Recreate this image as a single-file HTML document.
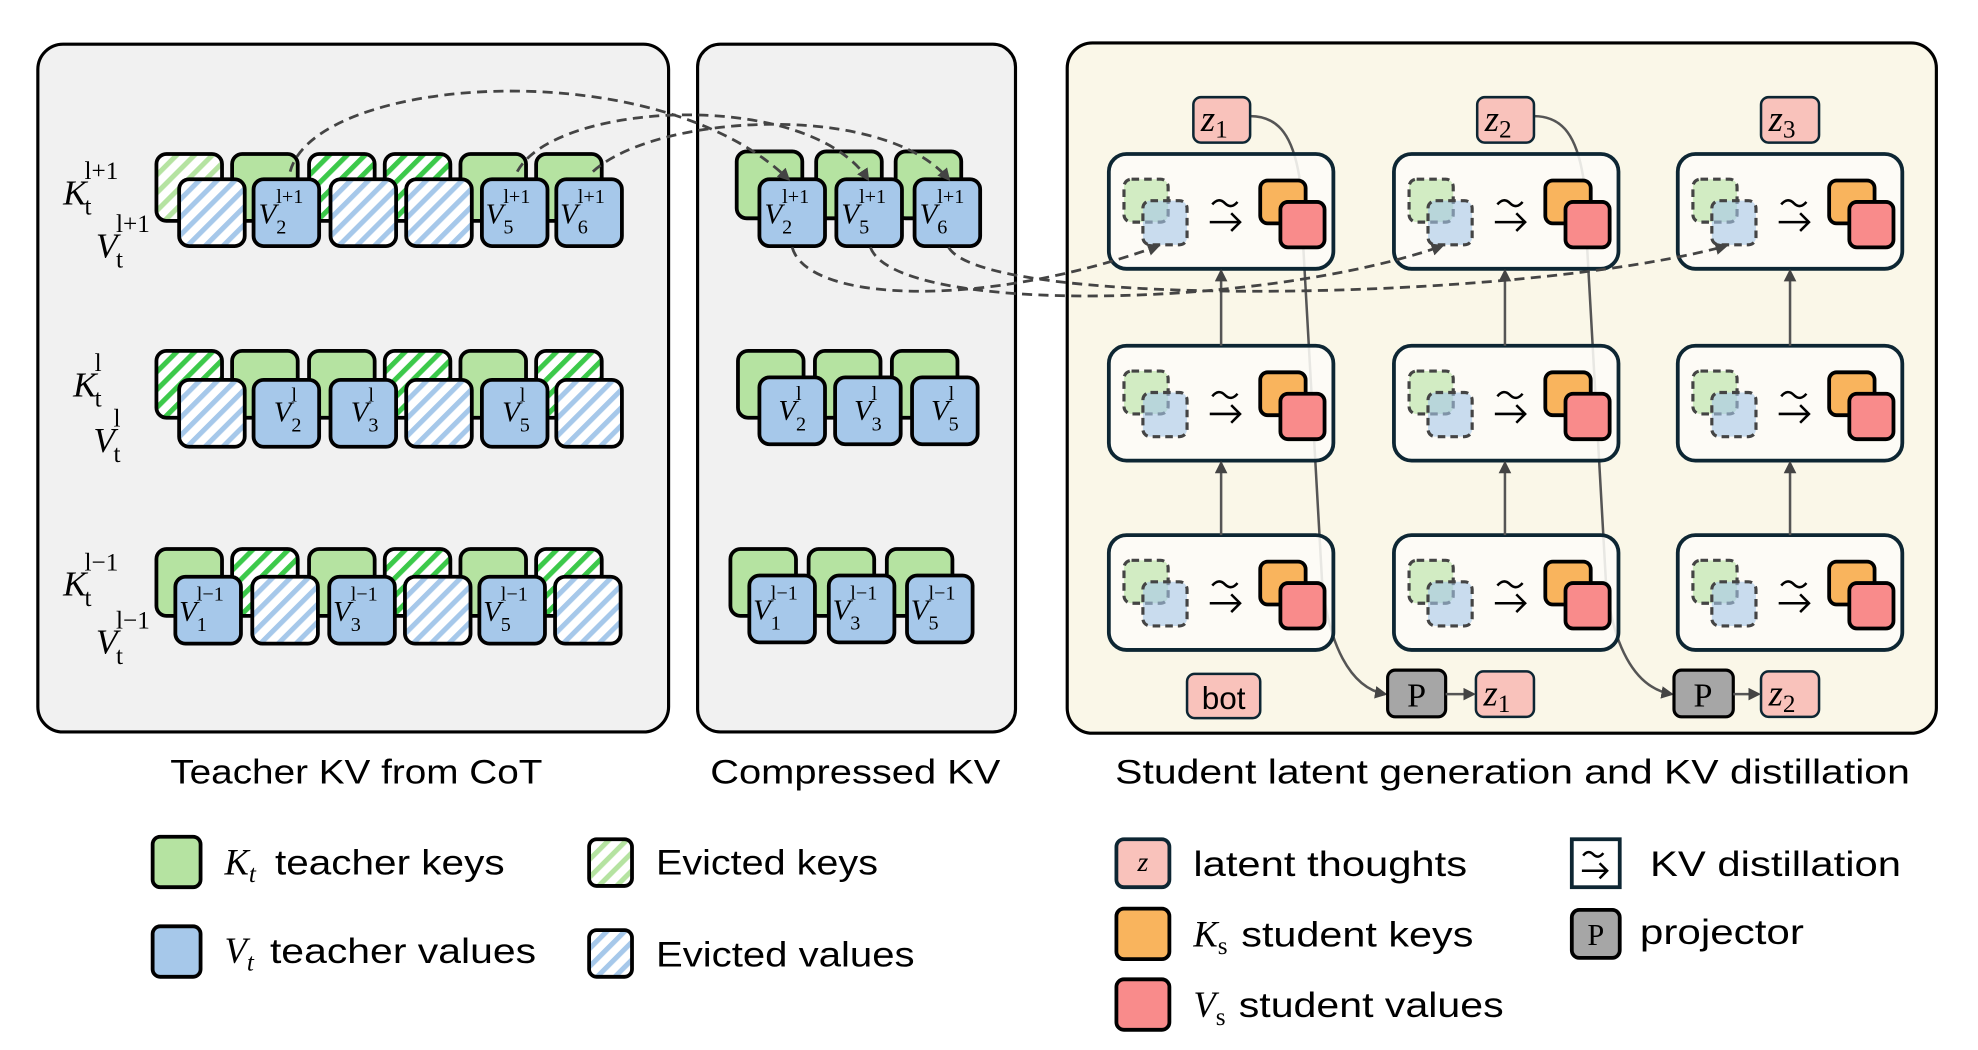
<!DOCTYPE html>
<html><head><meta charset="utf-8"><style>
html,body{margin:0;padding:0;background:#fff;}
svg{display:block;}
.t{font-family:"Liberation Sans",sans-serif;fill:#000;}
.s{font-family:"Liberation Serif",serif;fill:#000;}
</style></head><body>
<svg width="1978" height="1050" viewBox="0 0 1568 832" preserveAspectRatio="none" xmlns="http://www.w3.org/2000/svg">
<defs>
<pattern id="hg" patternUnits="userSpaceOnUse" width="10" height="10" patternTransform="rotate(45)">
<rect width="10" height="10" fill="#fff"/><rect width="4" height="10" fill="#3cc94a"/></pattern>
<pattern id="hgl" patternUnits="userSpaceOnUse" width="10" height="10" patternTransform="rotate(45)">
<rect width="10" height="10" fill="#fff"/><rect width="4" height="10" fill="#b5e3a1"/></pattern>
<pattern id="hb" patternUnits="userSpaceOnUse" width="10" height="10" patternTransform="rotate(45)">
<rect width="10" height="10" fill="#fff"/><rect width="4" height="10" fill="#a6c8ea"/></pattern>
<marker id="ah" markerWidth="10" markerHeight="10" refX="8" refY="5" orient="auto" markerUnits="userSpaceOnUse"><path d="M0,0 L10,5 L0,10 z" fill="#444"/></marker>
<g id="kS"><rect width="52" height="53" rx="8" fill="#b5e3a1" stroke="#000" stroke-width="3"/></g>
<g id="kH"><rect width="52" height="53" rx="8" fill="url(#hg)" stroke="#000" stroke-width="3"/></g>
<g id="kL"><rect width="52" height="53" rx="8" fill="url(#hgl)" stroke="#000" stroke-width="3"/></g>
<g id="vS"><rect width="52" height="53" rx="8" fill="#a6c8ea" stroke="#000" stroke-width="3"/></g>
<g id="vH"><rect width="52" height="53" rx="8" fill="url(#hb)" stroke="#000" stroke-width="3"/></g>
<g id="blk">
<rect width="178" height="91" rx="14" fill="#fdfcf7" fill-opacity="0.88" stroke="#0d2633" stroke-width="3"/>
<rect x="12" y="20" width="35" height="34" rx="6" fill="#b5e3a1" fill-opacity="0.6" stroke="#444" stroke-width="2.5" stroke-dasharray="6,4"/>
<rect x="27" y="37" width="35" height="35" rx="6" fill="#a6c8ea" fill-opacity="0.6" stroke="#444" stroke-width="2.5" stroke-dasharray="6,4"/>
<path d="M82,40 q5,-6 10,-1 t10,-1" fill="none" stroke="#000" stroke-width="2"/>
<path d="M80,54 h24 M97,47 l7,7 l-7,7" fill="none" stroke="#000" stroke-width="2"/>
<rect x="120" y="21" width="36" height="34" rx="6" fill="#f9b45d" stroke="#000" stroke-width="3"/>
<rect x="136" y="38" width="35" height="36" rx="6" fill="#f98b8b" stroke="#000" stroke-width="3"/>
</g>
</defs>

<rect x="30" y="35" width="500" height="545" rx="20" fill="#f1f1f1" stroke="#000" stroke-width="2.5"/>
<rect x="553" y="35" width="252" height="545" rx="18" fill="#f1f1f1" stroke="#000" stroke-width="2.5"/>
<rect x="846" y="34" width="689" height="547" rx="20" fill="#faf7e8" stroke="#000" stroke-width="2.5"/>

<text class="t" x="135" y="621" font-size="27" textLength="295" lengthAdjust="spacingAndGlyphs">Teacher KV from CoT</text>
<text class="t" x="563" y="621" font-size="27" textLength="230" lengthAdjust="spacingAndGlyphs">Compressed KV</text>
<text class="t" x="884" y="621" font-size="27" textLength="630" lengthAdjust="spacingAndGlyphs">Student latent generation and KV distillation</text>

<g class="s" font-size="28">
<text x="50" y="162"><tspan font-style="italic">K</tspan><tspan x="67" dy="8" font-size="20">t</tspan><tspan x="67" dy="-28" font-size="20">l+1</tspan></text>
<text x="76" y="204"><tspan font-style="italic">V</tspan><tspan x="92" dy="8" font-size="20">t</tspan><tspan x="92" dy="-28" font-size="20">l+1</tspan></text>
<text x="58" y="314"><tspan font-style="italic">K</tspan><tspan x="75" dy="8" font-size="20">t</tspan><tspan x="75" dy="-28" font-size="20">l</tspan></text>
<text x="74" y="358"><tspan font-style="italic">V</tspan><tspan x="90" dy="8" font-size="20">t</tspan><tspan x="90" dy="-28" font-size="20">l</tspan></text>
<text x="50" y="472"><tspan font-style="italic">K</tspan><tspan x="67" dy="8" font-size="20">t</tspan><tspan x="67" dy="-28" font-size="20">l−1</tspan></text>
<text x="76" y="518"><tspan font-style="italic">V</tspan><tspan x="92" dy="8" font-size="20">t</tspan><tspan x="92" dy="-28" font-size="20">l−1</tspan></text>
</g>

<use href="#kL" x="124" y="122"/><use href="#kS" x="184" y="122"/><use href="#kH" x="245" y="122"/><use href="#kH" x="305" y="122"/><use href="#kS" x="365" y="122"/><use href="#kS" x="425" y="122"/>
<use href="#vH" x="142" y="142"/><use href="#vS" x="201" y="142"/><use href="#vH" x="262" y="142"/><use href="#vH" x="322" y="142"/><use href="#vS" x="382" y="142"/><use href="#vS" x="441" y="142"/>
<use href="#kH" x="124" y="278"/><use href="#kS" x="184" y="278"/><use href="#kS" x="245" y="278"/><use href="#kH" x="305" y="278"/><use href="#kS" x="365" y="278"/><use href="#kH" x="425" y="278"/>
<use href="#vH" x="142" y="301"/><use href="#vS" x="201" y="301"/><use href="#vS" x="262" y="301"/><use href="#vH" x="322" y="301"/><use href="#vS" x="382" y="301"/><use href="#vH" x="441" y="301"/>
<use href="#kS" x="124" y="435"/><use href="#kH" x="184" y="435"/><use href="#kS" x="245" y="435"/><use href="#kH" x="305" y="435"/><use href="#kS" x="365" y="435"/><use href="#kH" x="425" y="435"/>
<use href="#vS" x="139" y="457"/><use href="#vH" x="200" y="457"/><use href="#vS" x="261" y="457"/><use href="#vH" x="321" y="457"/><use href="#vS" x="380" y="457"/><use href="#vH" x="440" y="457"/>

<use href="#kS" x="584" y="120"/><use href="#kS" x="647" y="120"/><use href="#kS" x="710" y="120"/>
<use href="#vS" x="602" y="142"/><use href="#vS" x="663" y="142"/><use href="#vS" x="725" y="142"/>
<use href="#kS" x="585" y="278"/><use href="#kS" x="646" y="278"/><use href="#kS" x="707" y="278"/>
<use href="#vS" x="602" y="299"/><use href="#vS" x="662" y="299"/><use href="#vS" x="723" y="299"/>
<use href="#kS" x="579" y="435"/><use href="#kS" x="641" y="435"/><use href="#kS" x="703" y="435"/>
<use href="#vS" x="594" y="456"/><use href="#vS" x="657" y="456"/><use href="#vS" x="719" y="456"/>

<g class="s" font-size="23">
<text x="205" y="177"><tspan font-style="italic">V</tspan><tspan x="219" dy="8" font-size="16">2</tspan><tspan x="219" dy="-24" font-size="16">l+1</tspan></text>
<text x="385" y="177"><tspan font-style="italic">V</tspan><tspan x="399" dy="8" font-size="16">5</tspan><tspan x="399" dy="-24" font-size="16">l+1</tspan></text>
<text x="444" y="177"><tspan font-style="italic">V</tspan><tspan x="458" dy="8" font-size="16">6</tspan><tspan x="458" dy="-24" font-size="16">l+1</tspan></text>
<text x="217" y="334"><tspan font-style="italic">V</tspan><tspan x="231" dy="8" font-size="16">2</tspan><tspan x="231" dy="-24" font-size="16">l</tspan></text>
<text x="278" y="334"><tspan font-style="italic">V</tspan><tspan x="292" dy="8" font-size="16">3</tspan><tspan x="292" dy="-24" font-size="16">l</tspan></text>
<text x="398" y="334"><tspan font-style="italic">V</tspan><tspan x="412" dy="8" font-size="16">5</tspan><tspan x="412" dy="-24" font-size="16">l</tspan></text>
<text x="142" y="492"><tspan font-style="italic">V</tspan><tspan x="156" dy="8" font-size="16">1</tspan><tspan x="156" dy="-24" font-size="16">l−1</tspan></text>
<text x="264" y="492"><tspan font-style="italic">V</tspan><tspan x="278" dy="8" font-size="16">3</tspan><tspan x="278" dy="-24" font-size="16">l−1</tspan></text>
<text x="383" y="492"><tspan font-style="italic">V</tspan><tspan x="397" dy="8" font-size="16">5</tspan><tspan x="397" dy="-24" font-size="16">l−1</tspan></text>
<text x="606" y="177"><tspan font-style="italic">V</tspan><tspan x="620" dy="8" font-size="16">2</tspan><tspan x="620" dy="-24" font-size="16">l+1</tspan></text>
<text x="667" y="177"><tspan font-style="italic">V</tspan><tspan x="681" dy="8" font-size="16">5</tspan><tspan x="681" dy="-24" font-size="16">l+1</tspan></text>
<text x="729" y="177"><tspan font-style="italic">V</tspan><tspan x="743" dy="8" font-size="16">6</tspan><tspan x="743" dy="-24" font-size="16">l+1</tspan></text>
<text x="617" y="333"><tspan font-style="italic">V</tspan><tspan x="631" dy="8" font-size="16">2</tspan><tspan x="631" dy="-24" font-size="16">l</tspan></text>
<text x="677" y="333"><tspan font-style="italic">V</tspan><tspan x="691" dy="8" font-size="16">3</tspan><tspan x="691" dy="-24" font-size="16">l</tspan></text>
<text x="738" y="333"><tspan font-style="italic">V</tspan><tspan x="752" dy="8" font-size="16">5</tspan><tspan x="752" dy="-24" font-size="16">l</tspan></text>
<text x="597" y="491"><tspan font-style="italic">V</tspan><tspan x="611" dy="8" font-size="16">1</tspan><tspan x="611" dy="-24" font-size="16">l−1</tspan></text>
<text x="660" y="491"><tspan font-style="italic">V</tspan><tspan x="674" dy="8" font-size="16">3</tspan><tspan x="674" dy="-24" font-size="16">l−1</tspan></text>
<text x="722" y="491"><tspan font-style="italic">V</tspan><tspan x="736" dy="8" font-size="16">5</tspan><tspan x="736" dy="-24" font-size="16">l−1</tspan></text>
</g>

<path d="M991,92 C1015,92 1025,110 1030,140 L1048,460 C1053,510 1070,545 1098,550" fill="none" stroke="#555" stroke-width="2" marker-end="url(#ah)"/>
<path d="M1216,92 C1240,92 1250,110 1255,140 L1273,460 C1278,510 1295,545 1325,550" fill="none" stroke="#555" stroke-width="2" marker-end="url(#ah)"/>

<use href="#blk" x="879" y="122"/><use href="#blk" x="1105" y="122"/><use href="#blk" x="1330" y="122"/>
<use href="#blk" x="879" y="274"/><use href="#blk" x="1105" y="274"/><use href="#blk" x="1330" y="274"/>
<use href="#blk" x="879" y="424"/><use href="#blk" x="1105" y="424"/><use href="#blk" x="1330" y="424"/>

<g stroke="#555" stroke-width="2" marker-end="url(#ah)">
<line x1="968" y1="274" x2="968" y2="215"/><line x1="1193" y1="274" x2="1193" y2="215"/><line x1="1419" y1="274" x2="1419" y2="215"/>
<line x1="968" y1="424" x2="968" y2="367"/><line x1="1193" y1="424" x2="1193" y2="367"/><line x1="1419" y1="424" x2="1419" y2="367"/>
</g>

<g stroke="#0d2633" stroke-width="2">
<rect x="946" y="77" width="45" height="36" rx="6" fill="#f9c2bb"/>
<rect x="1171" y="77" width="45" height="36" rx="6" fill="#f9c2bb"/>
<rect x="1396" y="77" width="46" height="36" rx="6" fill="#f9c2bb"/>
<rect x="941" y="534" width="58" height="35" rx="6" fill="#f9c2bb"/>
<rect x="1170" y="532" width="46" height="36" rx="6" fill="#f9c2bb"/>
<rect x="1396" y="532" width="46" height="36" rx="6" fill="#f9c2bb"/>
</g>
<g stroke="#000" stroke-width="2.5" fill="#a6a6a6">
<rect x="1100" y="531" width="46" height="37" rx="6"/>
<rect x="1327" y="531" width="47" height="37" rx="6"/>
</g>
<g stroke="#555" stroke-width="2" marker-end="url(#ah)">
<line x1="1146" y1="550" x2="1168" y2="550"/><line x1="1374" y1="550" x2="1394" y2="550"/>
</g>
<g class="s" font-size="29">
<text x="952" y="104"><tspan font-style="italic">z</tspan><tspan font-size="20" dy="5">1</tspan></text>
<text x="1177" y="104"><tspan font-style="italic">z</tspan><tspan font-size="20" dy="5">2</tspan></text>
<text x="1402" y="104"><tspan font-style="italic">z</tspan><tspan font-size="20" dy="5">3</tspan></text>
<text x="1176" y="559"><tspan font-style="italic">z</tspan><tspan font-size="20" dy="5">1</tspan></text>
<text x="1402" y="559"><tspan font-style="italic">z</tspan><tspan font-size="20" dy="5">2</tspan></text>
<text x="1123" y="560" text-anchor="middle" font-size="27">P</text>
<text x="1350" y="560" text-anchor="middle" font-size="27">P</text>
</g>
<text class="t" x="970" y="562" font-size="25" text-anchor="middle">bot</text>

<g fill="none" stroke="#444" stroke-width="2.2" stroke-dasharray="8,5" marker-end="url(#ah)">
<path d="M230,136 C250,60 520,40 625,142"/>
<path d="M410,136 C440,80 640,70 688,142"/>
<path d="M470,136 C520,90 700,80 752,142"/>
<path d="M628,196 C640,240 780,245 918,195"/>
<path d="M690,196 C710,250 1000,245 1143,195"/>
<path d="M752,196 C780,245 1200,240 1368,195"/>
</g>

<rect x="121" y="663" width="38" height="40" rx="6" fill="#b5e3a1" stroke="#000" stroke-width="3"/>
<rect x="121" y="734" width="38" height="40" rx="6" fill="#a6c8ea" stroke="#000" stroke-width="3"/>
<rect x="467" y="665" width="34" height="37" rx="6" fill="url(#hgl)" stroke="#000" stroke-width="3"/>
<rect x="467" y="737" width="34" height="37" rx="6" fill="url(#hb)" stroke="#000" stroke-width="3"/>
<text class="s" x="178" y="693" font-size="29" font-style="italic">K<tspan font-size="20" dy="6">t</tspan></text>
<text class="t" x="218" y="693" font-size="28" textLength="182" lengthAdjust="spacingAndGlyphs">teacher keys</text>
<text class="s" x="178" y="763" font-size="29" font-style="italic">V<tspan font-size="20" dy="6">t</tspan></text>
<text class="t" x="214" y="763" font-size="28" textLength="211" lengthAdjust="spacingAndGlyphs">teacher values</text>
<text class="t" x="520" y="693" font-size="28" textLength="176" lengthAdjust="spacingAndGlyphs">Evicted keys</text>
<text class="t" x="520" y="766" font-size="28" textLength="205" lengthAdjust="spacingAndGlyphs">Evicted values</text>

<rect x="885" y="665" width="42" height="38" rx="6" fill="#f9c2bb" stroke="#0d2633" stroke-width="3"/>
<text class="s" x="906" y="690" font-size="22" font-style="italic" text-anchor="middle">z</text>
<rect x="885" y="720" width="42" height="40" rx="6" fill="#f9b45d" stroke="#000" stroke-width="3"/>
<rect x="885" y="776" width="42" height="40" rx="6" fill="#f98b8b" stroke="#000" stroke-width="3"/>
<text class="t" x="946" y="694" font-size="28" textLength="217" lengthAdjust="spacingAndGlyphs">latent thoughts</text>
<text class="s" x="946" y="750" font-size="29" font-style="italic">K<tspan font-size="20" dy="6" font-style="normal">s</tspan></text>
<text class="t" x="984" y="750" font-size="28" textLength="184" lengthAdjust="spacingAndGlyphs">student keys</text>
<text class="s" x="946" y="806" font-size="29" font-style="italic">V<tspan font-size="20" dy="6" font-style="normal">s</tspan></text>
<text class="t" x="982" y="806" font-size="28" textLength="210" lengthAdjust="spacingAndGlyphs">student values</text>

<rect x="1246" y="665" width="38" height="38" fill="#fff" stroke="#0d2633" stroke-width="3"/>
<path d="M1255,678 q4,-5 8,-1 t8,-1" fill="none" stroke="#000" stroke-width="2"/>
<path d="M1254,690 h20 M1268,684 l6,6 l-6,6" fill="none" stroke="#000" stroke-width="2"/>
<text class="t" x="1308" y="694" font-size="28" textLength="199" lengthAdjust="spacingAndGlyphs">KV distillation</text>
<rect x="1246" y="721" width="38" height="38" rx="6" fill="#a6a6a6" stroke="#000" stroke-width="3"/>
<text class="s" x="1265" y="749" font-size="24" text-anchor="middle">P</text>
<text class="t" x="1300" y="748" font-size="28" textLength="130" lengthAdjust="spacingAndGlyphs">projector</text>
</svg>
</body></html>
